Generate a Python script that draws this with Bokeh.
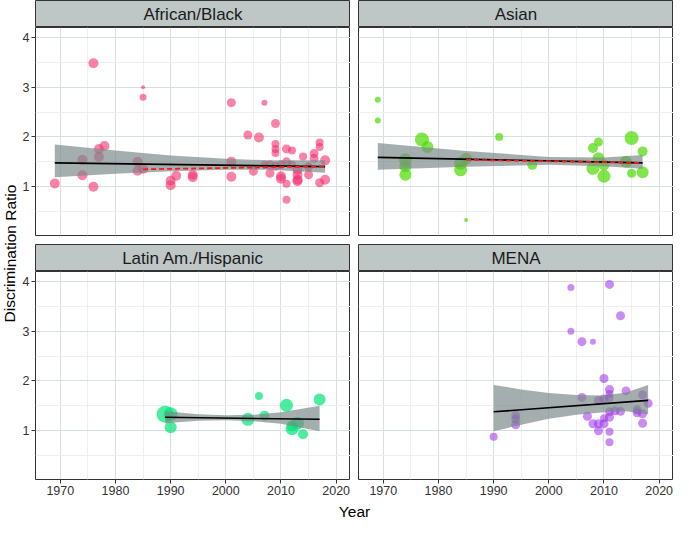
from bokeh.plotting import figure
from bokeh.layouts import column, row
from bokeh.models import Range1d, FixedTicker
from bokeh.core.properties import value
from bokeh.embed import file_html
from bokeh.resources import INLINE

# ---------------- data ----------------
AFR_YEAR = [1969, 1974, 1974, 1976, 1976, 1977, 1977, 1978, 1984, 1984, 1985, 1985, 1985,
            1990, 1990, 1991, 1994, 1994, 2001, 2001, 2001, 2004, 2005, 2006, 2007, 2007,
            2008, 2008, 2009, 2009, 2009, 2009, 2009, 2010, 2010, 2010, 2011, 2011, 2011,
            2011, 2012, 2012, 2013, 2013, 2013, 2013, 2014, 2015, 2015, 2016, 2016, 2017,
            2017, 2017, 2018, 2018]
AFR_RATIO = [1.065, 1.54, 1.23, 3.48, 1.00, 1.76, 1.60, 1.82, 1.50, 1.32, 3.00, 2.80, 1.36,
             1.12, 1.03, 1.22, 1.24, 1.19, 2.69, 1.50, 1.20, 2.04, 1.31, 1.99, 2.69, 1.44,
             1.27, 1.44, 2.27, 1.86, 1.76, 1.68, 1.41, 1.44, 1.21, 1.16, 1.76, 1.50, 1.06,
             0.74, 1.73, 1.44, 1.34, 1.24, 1.14, 1.11, 1.61, 1.40, 1.24, 1.67, 1.57, 1.89,
             1.80, 1.08, 1.53, 1.14]
AFR_SIZE = [10, 10, 10, 10, 10, 10, 10, 10, 10, 10, 4, 7, 10,
            10, 10, 10, 10, 10, 9, 10, 10, 9, 9, 10, 6, 8,
            9, 9, 9, 8, 8, 8, 9, 9, 10, 10, 9, 9, 8,
            8, 8, 8, 10, 10, 10, 10, 8, 9, 9, 9, 9, 8,
            8, 9, 10, 10]

ASI_YEAR = [1969, 1969, 1974, 1974, 1974, 1977, 1978, 1984, 1984, 1985, 1985, 1991, 1997,
            2008, 2009, 2008, 2009, 2010, 2010, 2014, 2015, 2015, 2017, 2017]
ASI_RATIO = [2.75, 2.33, 1.54, 1.41, 1.24, 1.95, 1.80, 1.47, 1.34, 1.56, 0.33, 2.00, 1.44,
             1.78, 1.90, 1.37, 1.57, 1.44, 1.21, 1.50, 1.98, 1.27, 1.71, 1.29]
ASI_SIZE = [6, 6, 13, 12, 12, 14, 12, 13, 13, 12, 4, 8, 10,
            10, 9, 13, 12, 11, 13, 12, 14, 9, 10, 12]

LAT_YEAR = [1989, 1990, 1990, 2004, 2006, 2007, 2011, 2012, 2013, 2012, 2014, 2017]
LAT_RATIO = [1.33, 1.33, 1.07, 1.23, 1.70, 1.30, 1.51, 1.04, 1.15, 1.10, 0.93, 1.63]
LAT_SIZE = [17, 14, 12, 13, 8, 10, 13, 13, 13, 11, 10, 12]

MENA_YEAR = [1990, 1994, 1994, 1994, 2004, 2004, 2006, 2006, 2007, 2008, 2008, 2009, 2009,
             2009, 2010, 2010, 2010, 2010, 2011, 2011, 2011, 2011, 2011, 2011, 2011, 2011,
             2012, 2013, 2013, 2014, 2016, 2016, 2017, 2017, 2017, 2018]
MENA_RATIO = [0.88, 1.31, 1.23, 1.12, 3.88, 3.00, 2.79, 1.67, 1.29, 2.79, 1.14, 1.61, 1.14,
              1.00, 2.05, 1.64, 1.14, 1.25, 3.94, 1.83, 1.74, 1.66, 1.38, 1.27, 0.98, 0.77,
              1.40, 3.31, 1.39, 1.80, 1.42, 1.36, 1.72, 1.34, 1.15, 1.55]
MENA_SIZE = [8, 9, 9, 9, 7, 7, 9, 9, 9, 6, 9, 9, 9,
             9, 9, 9, 9, 8, 9, 9, 8, 8, 9, 9, 8, 8,
             9, 9, 9, 9, 9, 9, 9, 9, 9, 9]

# fitted lines (black solid), sub-period fits (red dashed) and confidence bands
AFR_FIT_X = [1969, 2018]
AFR_FIT_Y = [1.48, 1.405]
AFR_SUB_X = [1985, 2018]
AFR_SUB_Y = [1.35, 1.41]
AFR_BAND_X = [1969, 1980, 1990, 2000, 2008, 2018]
AFR_BAND_HI = [1.85, 1.73, 1.63, 1.56, 1.53, 1.53]
AFR_BAND_LO = [1.19, 1.26, 1.31, 1.34, 1.34, 1.28]

ASI_FIT_X = [1969, 2017]
ASI_FIT_Y = [1.59, 1.48]
ASI_SUB_X = [1985, 2017]
ASI_SUB_Y = [1.54, 1.48]
ASI_BAND_X = [1969, 1985, 2000, 2010, 2017]
ASI_BAND_HI = [1.88, 1.72, 1.60, 1.59, 1.64]
ASI_BAND_LO = [1.34, 1.40, 1.44, 1.41, 1.36]

LAT_FIT_X = [1989, 2017]
LAT_FIT_Y = [1.27, 1.23]
LAT_BAND_X = [1989, 1995, 2000, 2005, 2010, 2017]
LAT_BAND_HI = [1.39, 1.33, 1.31, 1.32, 1.37, 1.50]
LAT_BAND_LO = [1.15, 1.20, 1.21, 1.19, 1.14, 0.99]

MENA_FIT_X = [1990, 2018]
MENA_FIT_Y = [1.38, 1.61]
MENA_BAND_X = [1990, 1995, 2000, 2005, 2010, 2014, 2018]
MENA_BAND_HI = [1.92, 1.83, 1.76, 1.72, 1.71, 1.77, 1.92]
MENA_BAND_LO = [0.99, 1.12, 1.24, 1.32, 1.37, 1.39, 1.33]

X_TICKS = [1970, 1980, 1990, 2000, 2010, 2020]
X_MINOR = [1965, 1975, 1985, 1995, 2005, 2015]
Y_TICKS = [1, 2, 3, 4]
Y_MINOR = [0.5, 1.5, 2.5, 3.5]
X_LIM = (1965.5, 2022.6)
Y_LIM = (0.02, 4.2)

# ---------------- style / layout ----------------
FONT = "Liberation Sans"
STRIP_FILL = "#BEC6C6"
BORDER = "#333333"
MAJOR = "#D8DFDF"
MINOR = "#ECF0F0"
BAND_FILL = "#7A8787"

YLAB_W = 19
LEFT_AXIS = 16
FRAME_W = 315
GAP = 8
RIGHT_PAD = 0
FRAME_H = 208
STRIP_H = 27
ROW_GAP = 9
XAXIS_H = 22
XLAB_H = 19


def make_strip(label, left):
    s = figure(frame_width=FRAME_W, frame_height=STRIP_H, x_range=Range1d(0, 1),
               y_range=Range1d(0, 1), x_axis_type=None, y_axis_type=None,
               toolbar_location=None, output_backend="svg",
               min_border_left=left, min_border_right=RIGHT_PAD if left == GAP else 0,
               min_border_top=0, min_border_bottom=0)
    s.background_fill_color = STRIP_FILL
    s.outline_line_color = BORDER
    s.outline_line_width = 1
    s.text(x=[0.5], y=[0.5], text=[label], text_align="center", text_baseline="middle",
           text_font=value(FONT), text_font_size="17px", text_color="#1A1A1A")
    return s


def make_panel(years, ratios, sizes, color, alpha, fit_x, fit_y, bx, bhi, blo,
               sub_x=None, sub_y=None, left=LEFT_AXIS, bottom=ROW_GAP,
               show_x=False, show_y=False):
    p = figure(frame_width=FRAME_W, frame_height=FRAME_H, x_range=Range1d(*X_LIM),
               y_range=Range1d(*Y_LIM), toolbar_location=None, output_backend="svg",
               min_border_left=left, min_border_right=RIGHT_PAD if left == GAP else 0,
               min_border_top=0, min_border_bottom=bottom)
    p.background_fill_color = "white"
    p.outline_line_color = BORDER
    p.outline_line_width = 1
    xt = FixedTicker(ticks=X_TICKS, minor_ticks=X_MINOR)
    yt = FixedTicker(ticks=Y_TICKS, minor_ticks=Y_MINOR)
    p.xaxis.ticker = xt
    p.xgrid.ticker = xt
    p.yaxis.ticker = yt
    p.ygrid.ticker = yt
    for g in (p.xgrid, p.ygrid):
        g.grid_line_color = MAJOR
        g.grid_line_width = 1
        g.minor_grid_line_color = MINOR
        g.minor_grid_line_width = 1
    for ax in (p.xaxis, p.yaxis):
        ax.axis_line_color = None
        ax.major_tick_line_color = BORDER
        ax.major_tick_out = 4
        ax.major_tick_in = 0
        ax.minor_tick_line_color = None
        ax.major_label_text_font = FONT
        ax.major_label_text_font_size = "12.5px"
        ax.major_label_text_color = "#333333"
        ax.major_label_standoff = 2
    p.xaxis.visible = show_x
    p.yaxis.visible = show_y

    p.scatter(years, ratios, size=sizes, fill_color=color, fill_alpha=alpha, line_color=None)
    p.varea(x=bx, y1=blo, y2=bhi, fill_color=BAND_FILL, fill_alpha=0.68)
    p.line(fit_x, fit_y, line_color="black", line_width=1.6)
    if sub_x is not None:
        p.line(sub_x, sub_y, line_color="#FF1A1A", line_width=1.8, line_dash="5 3")
    return p


tl = make_panel(AFR_YEAR, AFR_RATIO, AFR_SIZE, "#F4306C", 0.6, AFR_FIT_X, AFR_FIT_Y,
                AFR_BAND_X, AFR_BAND_HI, AFR_BAND_LO, AFR_SUB_X, AFR_SUB_Y,
                left=LEFT_AXIS, bottom=ROW_GAP, show_y=True)
tr = make_panel(ASI_YEAR, ASI_RATIO, ASI_SIZE, "#4ADB00", 0.7, ASI_FIT_X, ASI_FIT_Y,
                ASI_BAND_X, ASI_BAND_HI, ASI_BAND_LO, ASI_SUB_X, ASI_SUB_Y,
                left=GAP, bottom=ROW_GAP)
bl = make_panel(LAT_YEAR, LAT_RATIO, LAT_SIZE, "#00E678", 0.7, LAT_FIT_X, LAT_FIT_Y,
                LAT_BAND_X, LAT_BAND_HI, LAT_BAND_LO,
                left=LEFT_AXIS, bottom=XAXIS_H, show_x=True, show_y=True)
br = make_panel(MENA_YEAR, MENA_RATIO, MENA_SIZE, "#9A2EE8", 0.55, MENA_FIT_X, MENA_FIT_Y,
                MENA_BAND_X, MENA_BAND_HI, MENA_BAND_LO,
                left=GAP, bottom=XAXIS_H, show_x=True)

left_col = column(make_strip("African/Black", LEFT_AXIS), tl,
                  make_strip("Latin Am./Hispanic", LEFT_AXIS), bl, spacing=0)
right_col = column(make_strip("Asian", GAP), tr, make_strip("MENA", GAP), br, spacing=0)
grid = row(left_col, right_col, spacing=0)

grid_w = LEFT_AXIS + FRAME_W + GAP + FRAME_W + RIGHT_PAD
grid_h = STRIP_H + FRAME_H + ROW_GAP + STRIP_H + FRAME_H + XAXIS_H

xlab = figure(frame_width=grid_w, frame_height=XLAB_H, x_range=Range1d(0, grid_w),
              y_range=Range1d(0, XLAB_H), x_axis_type=None, y_axis_type=None,
              toolbar_location=None, output_backend="svg", min_border=0)
xlab.outline_line_color = None
xlab.text(x=[(LEFT_AXIS + grid_w - RIGHT_PAD) / 2], y=[XLAB_H / 2], text=["Year"],
          text_align="center", text_baseline="middle", text_font=value(FONT),
          text_font_size="15.5px", text_color="black")

total_h = grid_h + XLAB_H
frames_center_from_top = (STRIP_H + (STRIP_H + FRAME_H + ROW_GAP + STRIP_H + FRAME_H)) / 2
ylab = figure(frame_width=YLAB_W, frame_height=total_h, x_range=Range1d(0, YLAB_W),
              y_range=Range1d(0, total_h), x_axis_type=None, y_axis_type=None,
              toolbar_location=None, output_backend="svg", min_border=0)
ylab.outline_line_color = None
ylab.text(x=[YLAB_W / 2], y=[total_h - frames_center_from_top], text=["Discrimination Ratio"],
          angle=1.5707963, text_align="center", text_baseline="middle",
          text_font=value(FONT), text_font_size="15.5px", text_color="black")

p = row(ylab, column(grid, xlab, spacing=0), spacing=0)

open("out.html", "w").write(file_html(p, INLINE))
